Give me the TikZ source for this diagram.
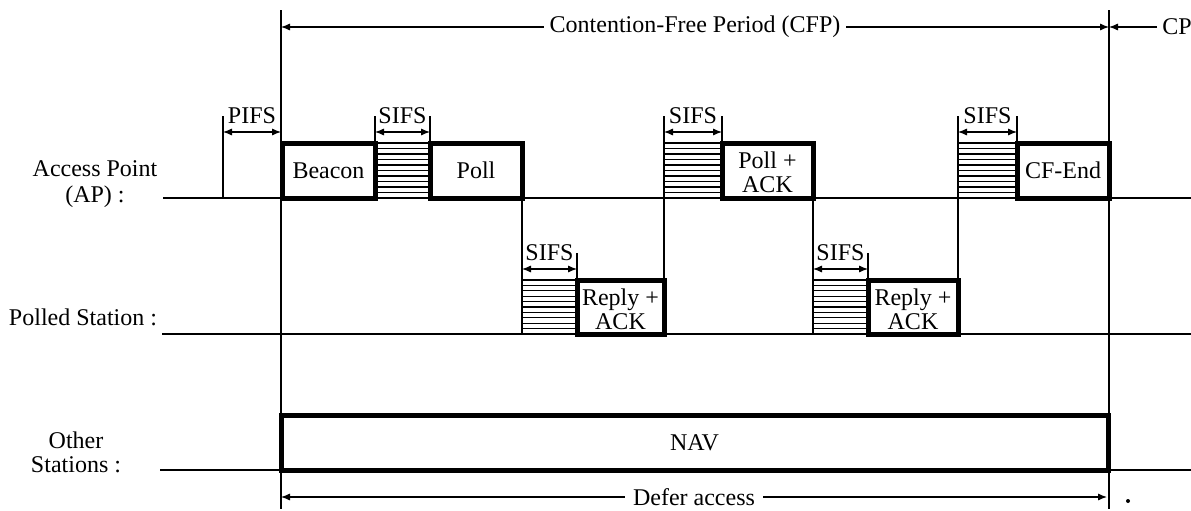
\documentclass[tikz,border=0pt]{standalone}
\usepackage{fontspec}
\setmainfont{Liberation Serif}
\usetikzlibrary{arrows.meta,calc,fit}

\newcommand\lblfont{\fontsize{12}{12}\selectfont}
% horizontal shading lines inside a named gap node
\newcommand\hatchlines[1]{%
  \foreach \k in {0,...,10}{%
    \draw[line width=0.6pt] ($(#1.north west)!\k/10!(#1.south west)$) -- ($(#1.north east)!\k/10!(#1.south east)$);}}

\tikzset{
  frame/.style={draw, line width=2.5pt, fill=white, inner sep=0pt, outer sep=0pt},
  gap/.style={fill=white, inner sep=0pt, outer sep=0pt},
  base/.style={line width=0.75pt},
  guide/.style={line width=0.7pt},
  span/.style={line width=0.6pt, {Latex[length=4.5pt,width=3.6pt]}-{Latex[length=4.5pt,width=3.6pt]}},
  onearrow/.style={line width=0.6pt, -{Latex[length=4.5pt,width=3.6pt]}},
  txt/.style={font=\lblfont, inner sep=0pt, align=center},
}

\begin{document}
\begin{tikzpicture}[x=0.5pt,y=-0.5pt]
\useasboundingbox (0,0) rectangle (1191,510);

% ---- station labels ----
\node[txt] (lap) at (95,184) {Access Point\\[1pt](AP) :};
\node[txt, anchor=base] (lps) at (83,325) {Polled Station :};
\node[txt] (los) at (76,452) {Other\\Stations :};

% ---- time lines ----
\coordinate (apL) at (163,198);  \coordinate (apR) at (1191,198);
\coordinate (psL) at (162,334);  \coordinate (psR) at (1191,334);
\coordinate (osL) at (160,470);  \coordinate (osR) at (1191,470);
\draw[base] (apL) -- (apR);
\draw[base] (psL) -- (psR);
\draw[base] (osL) -- (osR);

% ---- CFP boundaries ----
\coordinate (cfpTop) at (281,10);   \coordinate (cfpBot) at (281,509);
\coordinate (cpTop)  at (1109,10);  \coordinate (cpBot)  at (1109,509);
\draw[guide] (cfpTop) -- (cfpBot);
\draw[guide] (cpTop) -- (cpBot);

% ---- access point frames ----
\node[gap, fit={(375,143) (430,198)}] (hA1) {};
\node[gap, fit={(664,143) (722,198)}] (hA2) {};
\node[gap, fit={(958,143) (1017,198)}] (hA3) {};
\hatchlines{hA1}\hatchlines{hA2}\hatchlines{hA3}
\node[frame, fit={(282,143) (375,198)}] (beacon) {};
\node[frame, fit={(430,143) (522,198)}] (poll) {};
\node[frame, fit={(722,143) (813,198)}] (pollack) {};
\node[frame, fit={(1017,143) (1109,198)}] (cfend) {};
\node[txt] (beaconT) at (beacon.center) {Beacon};
\node[txt] (pollT) at (poll.center) {Poll};
\node[txt] (pollackT) at ([yshift=-1pt]pollack.center) {Poll +\\ACK};
\node[txt] (cfendT) at (cfend.center) {CF-End};

% ---- polled station frames ----
\node[gap, fit={(522,280) (577,334)}] (hP1) {};
\node[gap, fit={(813,280) (868,334)}] (hP2) {};
\hatchlines{hP1}\hatchlines{hP2}
\node[frame, fit={(577,280) (664,334)}] (reply1) {};
\node[frame, fit={(868,280) (958,334)}] (reply2) {};
\node[txt] (reply1T) at ([yshift=-1pt]reply1.center) {Reply +\\ACK};
\node[txt] (reply2T) at ([yshift=-1pt]reply2.center) {Reply +\\ACK};

% ---- other stations ----
\node[frame, fit={(281,415) (1108,470)}] (nav) {};
\node[txt] (navT) at (nav.center) {NAV};

% ---- drop lines between stations ----
\coordinate (tA2) at (664,116);
\coordinate (tA3) at (958,116);
\draw[guide] (poll.south east) -- (hP1.south west);
\draw[guide] (tA2) -- (reply1.north east);
\draw[guide] (pollack.south east) -- (hP2.south west);
\draw[guide] (tA3) -- (reply2.north east);

% ---- interframe spaces ----
% PIFS
\coordinate (pifsT) at (223,116);
\draw[guide] (pifsT) -- (223,198);
\coordinate (pifsA) at (223,132); \coordinate (pifsB) at (281,132);
\draw[span] (pifsA) -- (pifsB);
\node[txt, anchor=base] (pifs) at (252,123) {PIFS};
% SIFS after the beacon
\draw[guide] (375,116) -- (beacon.north east);
\draw[guide] (430,116) -- (poll.north west);
\coordinate (s1A) at (375,132); \coordinate (s1B) at (430,132);
\draw[span] (s1A) -- (s1B);
\node[txt, anchor=base] (sifs1) at (402.5,123) {SIFS};
% SIFS before the reply
\draw[guide] (577,253) -- (reply1.north west);
\coordinate (s2A) at (522,269); \coordinate (s2B) at (577,269);
\draw[span] (s2A) -- (s2B);
\node[txt, anchor=base] (sifs2) at (549.5,260) {SIFS};
% SIFS before poll + ack
\draw[guide] (722,116) -- (pollack.north west);
\coordinate (s3A) at (664,132); \coordinate (s3B) at (722,132);
\draw[span] (s3A) -- (s3B);
\node[txt, anchor=base] (sifs3) at (693,123) {SIFS};
% SIFS before the second reply
\draw[guide] (868,253) -- (reply2.north west);
\coordinate (s4A) at (813,269); \coordinate (s4B) at (868,269);
\draw[span] (s4A) -- (s4B);
\node[txt, anchor=base] (sifs4) at (840.5,260) {SIFS};
% SIFS before CF-End
\draw[guide] (1017,116) -- (cfend.north west);
\coordinate (s5A) at (958,132); \coordinate (s5B) at (1017,132);
\draw[span] (s5A) -- (s5B);
\node[txt, anchor=base] (sifs5) at (987.5,123) {SIFS};

% ---- period arrows ----
\coordinate (cfpA) at (281,27); \coordinate (cfpB) at (1109,27);
\draw[span] (cfpA) -- (cfpB)
  node[txt, midway, fill=white, inner xsep=3pt, inner ysep=2pt] (cfp) {Contention-Free Period (CFP)};
\coordinate (cpA) at (1157,27);
\draw[onearrow] (cpA) -- (cfpB);
\node[txt, anchor=west] (cp) at (1162,27) {CP};

\coordinate (defA) at (281,497); \coordinate (defB) at (1107,497);
\draw[span] (defA) -- (defB)
  node[txt, midway, fill=white, inner xsep=4pt, inner ysep=2pt] (defer) {Defer access};
\fill (1128,501) circle (2);
\end{tikzpicture}
\end{document}
